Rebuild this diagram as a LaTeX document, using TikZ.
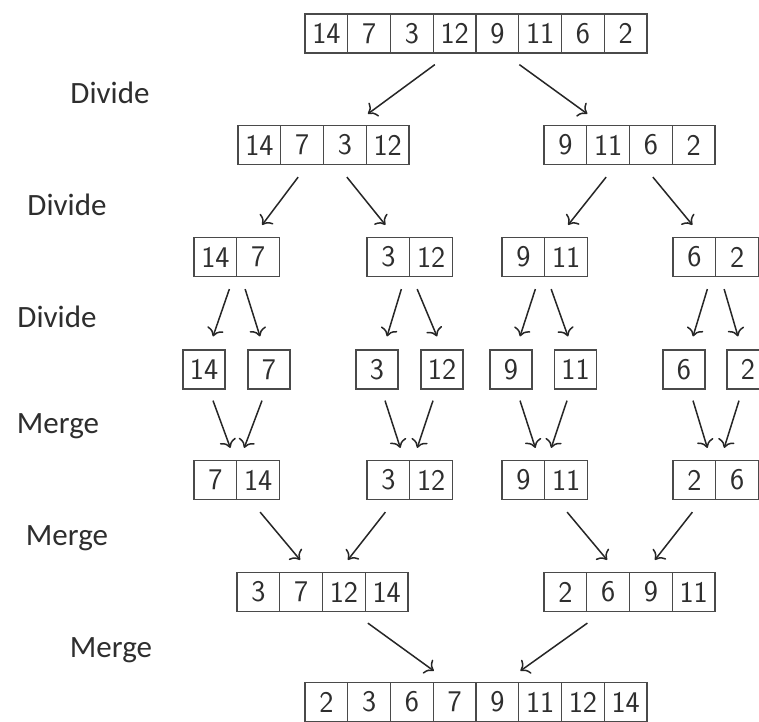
\documentclass[tikz,border=0pt]{standalone}
\usepackage{fontspec}
\newfontfamily\labelfont{Carlito}
\usetikzlibrary{arrows.meta,calc}
\definecolor{boxline}{HTML}{4A4A4A}
\definecolor{txt}{HTML}{2E2E2E}
\tikzset{
  cell/.style={draw=boxline, line width=1.2pt, minimum width=42.75pt, minimum height=39pt,
    inner sep=0pt, text=txt, font=\sffamily\fontsize{30}{32}\selectfont},
  single/.style={cell, minimum width=42pt},
  steplabel/.style={anchor=base, text=txt, font=\labelfont\fontsize{31}{34}\selectfont},
  arr/.style={draw=black!85, line width=1.5pt, -{To[length=8pt,width=17pt]}}
}
\newcommand\cellrow[4]{%
  \foreach \v [count=\i] in {#4} {\node[cell] (#1-\i) at ({#2+42.75*(\i-0.5)},#3) {\v};}}
\begin{document}
\begin{tikzpicture}[x=1pt,y=-1pt]
\useasboundingbox (0,0) rectangle (759,721);
\clip (0,0) rectangle (759,721);
\fill[white] (0,0) rectangle (759,721);
% labels
\node[steplabel] (l1) at (110,103) {Divide};
\node[steplabel] (l2) at (67,215) {Divide};
\node[steplabel] (l3) at (57,327) {Divide};
\node[steplabel] (l4) at (58,433) {Merge};
\node[steplabel] (l5) at (67,545) {Merge};
\node[steplabel] (l6) at (111,657) {Merge};
% row 1
\cellrow{a}{305}{33.5}{14,7,3,12,9,11,6,2}
% row 2
\cellrow{b}{238}{145}{14,7,3,12}
\cellrow{c}{544}{145}{9,11,6,2}
% row 3
\cellrow{d}{194}{257}{14,7}
\cellrow{e}{367}{257}{3,12}
\cellrow{f}{502}{257}{9,11}
\cellrow{g}{673}{257}{6,2}
% row 4
\node[single] (h1) at (204,369.5) {14};
\node[single] (h2) at (269,369.5) {7};
\node[single] (h3) at (377,369.5) {3};
\node[single] (h4) at (442,369.5) {12};
\node[single] (h5) at (511,369.5) {9};
\node[single] (h6) at (575.5,369.5) {11};
\node[single] (h7) at (684,369.5) {6};
\node[single] (h8) at (748,369.5) {2};
% row 5
\cellrow{i}{194}{480}{7,14}
\cellrow{j}{367}{480}{3,12}
\cellrow{k}{502}{480}{9,11}
\cellrow{l}{673}{480}{2,6}
% row 6
\cellrow{m}{237}{592}{3,7,12,14}
\cellrow{n}{544}{592}{2,6,9,11}
% row 7
\cellrow{o}{305}{702}{2,3,6,7,9,11,12,14}
% arrows row1 -> row2
\draw[arr] ($(a-3.south east)+(1,11)$) -- ($(b-3.north east)+(1,-11)$);
\draw[arr] ($(a-5.south east)+(0,11)$) -- ($(c-1.north east)+(0,-11)$);
% row2 -> row3
\draw[arr] ($(b-2.south)+(-4,12)$) -- ($(d-2.north)+(4,-12)$);
\draw[arr] ($(b-3.south)+(2,12)$) -- ($(e-1.north)+(-3,-12)$);
\draw[arr] ($(c-2.south)+(-2,12)$) -- ($(f-2.north)+(2,-12)$);
\draw[arr] ($(c-3.south)+(2,12)$) -- ($(g-1.north)+(-2,-12)$);
% row3 -> row4
\draw[arr] ($(d-1.south east)+(-8,12)$) -- ($(h1.north)+(9,-13)$);
\draw[arr] ($(d-2.south west)+(9,12)$) -- ($(h2.north)+(-9,-13)$);
\draw[arr] ($(e-1.south east)+(-9,12)$) -- ($(h3.north)+(10,-13)$);
\draw[arr] ($(e-2.south west)+(8,12)$) -- ($(h4.north)+(-5,-13)$);
\draw[arr] ($(f-1.south east)+(-10,12)$) -- ($(h5.north)+(9,-13)$);
\draw[arr] ($(f-2.south west)+(7,12)$) -- ($(h6.north)+(-7.5,-13)$);
\draw[arr] ($(g-1.south east)+(-9,12)$) -- ($(h7.north)+(9,-13)$);
\draw[arr] ($(g-2.south west)+(9,12)$) -- ($(h8.north)+(-10,-13)$);
% row4 -> row5
\draw[arr] ($(h1.south)+(9,11)$) -- ($(i-1.north east)+(-7,-12)$);
\draw[arr] ($(h2.south)+(-7,11)$) -- ($(i-2.north west)+(8,-12)$);
\draw[arr] ($(h3.south)+(8,11)$) -- ($(j-1.north east)+(-10,-12)$);
\draw[arr] ($(h4.south)+(-9,11)$) -- ($(j-2.north west)+(8,-12)$);
\draw[arr] ($(h5.south)+(9,11)$) -- ($(k-1.north east)+(-10,-12)$);
\draw[arr] ($(h6.south)+(-8.5,11)$) -- ($(k-2.north west)+(7,-12)$);
\draw[arr] ($(h7.south)+(9,11)$) -- ($(l-1.north east)+(-9,-12)$);
\draw[arr] ($(h8.south)+(-9,11)$) -- ($(l-2.north west)+(9,-12)$);
% row5 -> row6
\draw[arr] ($(i-2.south)+(2,12)$) -- ($(m-2.north)+(-1,-12)$);
\draw[arr] ($(j-1.south)+(-3,12)$) -- ($(m-3.north)+(4,-12)$);
\draw[arr] ($(k-2.south)+(1,12)$) -- ($(n-2.north)+(-1,-12)$);
\draw[arr] ($(l-1.south)+(-2,12)$) -- ($(n-3.north)+(4,-12)$);
% row6 -> row7
\draw[arr] ($(m-3.south east)+(2,11)$) -- ($(o-3.north east)+(0,-11)$);
\draw[arr] ($(n-1.south east)+(0,11)$) -- ($(o-5.north east)+(1,-11)$);
\end{tikzpicture}
\end{document}
